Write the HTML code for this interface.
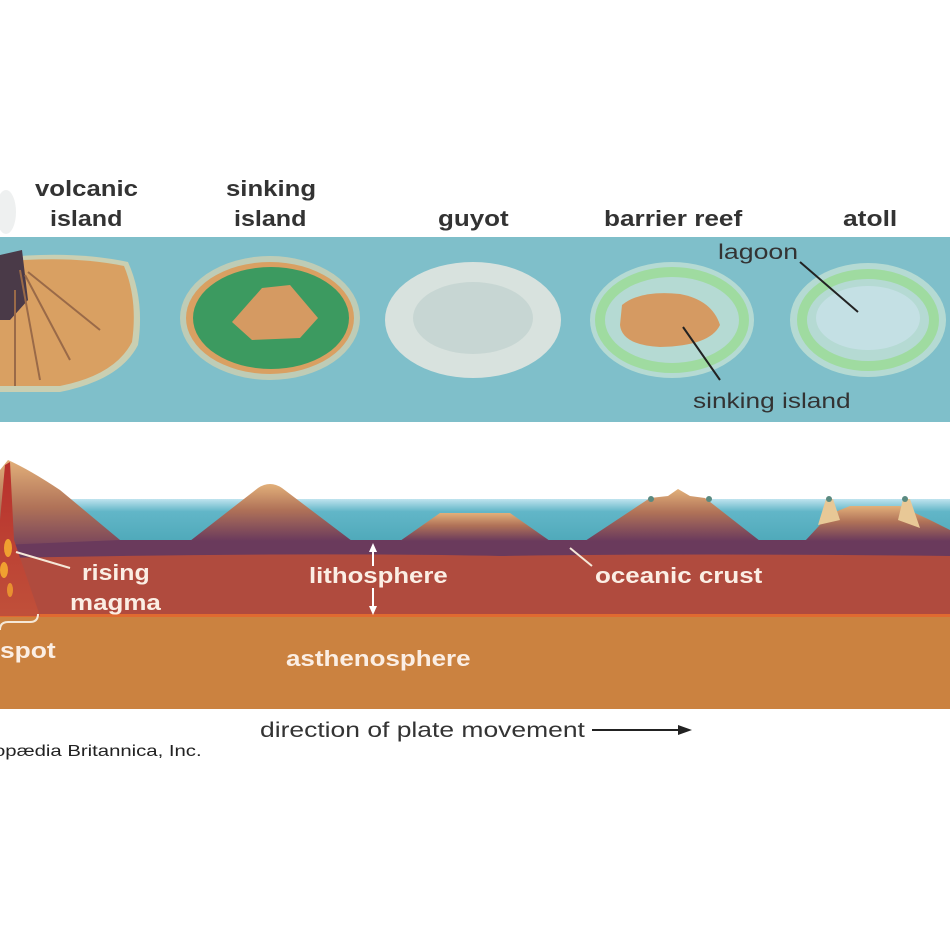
<!DOCTYPE html>
<html><head><meta charset="utf-8"><style>
html,body{margin:0;padding:0;background:#fff;width:950px;height:950px;overflow:hidden}
svg text{font-family:"Liberation Sans",Arial,sans-serif}
</style></head><body>
<svg width="950" height="950" viewBox="0 0 950 950" xmlns="http://www.w3.org/2000/svg">
<defs>
<linearGradient id="sea" x1="0" y1="0" x2="0" y2="1"><stop offset="0" stop-color="#bfe3ee"/><stop offset="0.25" stop-color="#62b6c8"/><stop offset="1" stop-color="#4aa6b6"/></linearGradient>
<linearGradient id="mt" x1="0" y1="0" x2="0" y2="1"><stop offset="0" stop-color="#e2b07a"/><stop offset="0.45" stop-color="#b07258"/><stop offset="1" stop-color="#6a3a5c"/></linearGradient>
<linearGradient id="mt2" x1="0" y1="460" x2="0" y2="555" gradientUnits="userSpaceOnUse"><stop offset="0" stop-color="#e2b07a"/><stop offset="0.5" stop-color="#b07258"/><stop offset="1" stop-color="#6a3a5c"/></linearGradient>
<linearGradient id="plume" x1="0" y1="0" x2="0" y2="1"><stop offset="0" stop-color="#b8302c"/><stop offset="1" stop-color="#c0503a"/></linearGradient>
</defs>

<!-- top labels -->
<g font-size="22" font-weight="bold" fill="#333">
<text transform="translate(35 196) scale(1.17 1)">volcanic</text>
<text transform="translate(50 226) scale(1.14 1)">island</text>
<text transform="translate(226 196) scale(1.17 1)">sinking</text>
<text transform="translate(234 226) scale(1.14 1)">island</text>
<text transform="translate(438 226) scale(1.18 1)">guyot</text>
<text transform="translate(604 226) scale(1.19 1)">barrier reef</text>
<text transform="translate(843 226) scale(1.2 1)">atoll</text>
</g>

<!-- top panel -->
<rect x="0" y="237" width="950" height="185" fill="#7fbfca"/>

<!-- volcanic island -->
<ellipse cx="6" cy="212" rx="10" ry="22" fill="#eef0f0"/>
<path d="M0 258 Q70 250 128 262 Q145 300 138 345 Q120 380 60 392 L0 392 Z" fill="#e8d6a8" opacity="0.7"/>
<path d="M0 262 Q70 255 124 266 Q138 300 132 342 Q115 375 60 386 L0 386 Z" fill="#d9a062"/>
<path d="M0 255 L22 250 L28 300 L10 320 L0 320 Z" fill="#4a3a48"/>
<path d="M20 270 L40 380 M25 275 L70 360 M28 272 L100 330 M15 290 L15 386" stroke="#9a6a48" stroke-width="2" fill="none"/>

<!-- sinking island -->
<ellipse cx="270" cy="318" rx="90" ry="62" fill="#e8d6a8" opacity="0.6"/>
<ellipse cx="270" cy="318" rx="84" ry="56" fill="#d9a062"/>
<ellipse cx="271" cy="318" rx="78" ry="51" fill="#3c9a60"/>
<path d="M232 322 L262 288 L290 285 L318 318 L300 338 L252 340 Z" fill="#d59a62"/>

<!-- guyot -->
<ellipse cx="473" cy="320" rx="88" ry="58" fill="#d8e2de"/>
<ellipse cx="473" cy="318" rx="60" ry="36" fill="#bccfcc" opacity="0.6"/>

<!-- barrier reef -->
<ellipse cx="672" cy="320" rx="82" ry="58" fill="#d8ecd8" opacity="0.6"/>
<ellipse cx="672" cy="320" rx="72" ry="48" fill="none" stroke="#9fdba0" stroke-width="10"/>
<path d="M622 305 Q640 290 680 294 Q712 300 720 325 Q710 346 660 347 Q622 345 620 325 Z" fill="#d59a62"/>

<!-- atoll -->
<ellipse cx="868" cy="320" rx="78" ry="57" fill="#d8ecd8" opacity="0.6"/>
<ellipse cx="868" cy="320" rx="66" ry="46" fill="none" stroke="#9fdba0" stroke-width="10"/>
<ellipse cx="868" cy="318" rx="52" ry="32" fill="#c4e0e4"/>

<g font-size="21" fill="#333">
<text transform="translate(718 259) scale(1.27 1)">lagoon</text>
<text transform="translate(693 408) scale(1.25 1)">sinking island</text>
</g>
<path d="M800 262 L858 312 M683 327 L720 380" stroke="#222" stroke-width="2"/>

<!-- cross section -->
<rect x="0" y="499" width="950" height="50" fill="url(#sea)"/>
<rect x="0" y="616" width="950" height="93" fill="#cb8240"/>
<rect x="0" y="554" width="950" height="62" fill="#b04b3e"/>
<rect x="0" y="614" width="950" height="3" fill="#e06a30"/>
<path d="M0 540 L950 540 L950 556 Q700 553 500 556 Q300 552 0 558 Z" fill="#6a3a5c"/>

<!-- mountains -->
<path d="M0 470 L8 460 Q30 470 60 490 L120 540 L0 545 Z" fill="url(#mt2)"/>
<path d="M190 541 L258 488 Q270 480 282 488 L352 541 Z" fill="url(#mt)"/>
<path d="M400 541 L440 513 L510 513 L550 541 Z" fill="url(#mt)"/>
<path d="M585 541 L650 498 L668 496 L678 489 L690 496 L705 498 L760 541 Z" fill="url(#mt)"/>
<path d="M805 541 L830 514 L850 506 L900 506 L930 520 L950 530 L950 541 Z" fill="url(#mt)"/>
<path d="M818 525 L826 499 L833 499 L840 520 Z M898 520 L903 499 L910 499 L920 528 Z" fill="#e8c896"/>
<circle cx="651" cy="499" r="3" fill="#5a8a80"/><circle cx="709" cy="499" r="3" fill="#5a8a80"/>
<circle cx="829" cy="499" r="3" fill="#5a8a80"/><circle cx="905" cy="499" r="3" fill="#5a8a80"/>

<!-- plume -->
<path d="M5 465 L10 462 L14 540 L40 616 L0 616 L0 520 Z" fill="url(#plume)"/>
<ellipse cx="8" cy="548" rx="4" ry="9" fill="#f0a030"/>
<ellipse cx="4" cy="570" rx="4" ry="8" fill="#f0a030"/>
<ellipse cx="10" cy="590" rx="3" ry="7" fill="#e89030"/>
<path d="M16 552 L70 568" stroke="#f5e8d8" stroke-width="2"/>
<path d="M0 630 Q0 622 8 622 L30 622 Q38 622 38 614" stroke="#f5e8d8" stroke-width="2" fill="none"/>

<g font-size="22" font-weight="bold" fill="#fbeee4">
<text transform="translate(82 580) scale(1.13 1)">rising</text>
<text transform="translate(70 610) scale(1.18 1)">magma</text>
<text transform="translate(0 658) scale(1.2 1)">spot</text>
<text transform="translate(309 583) scale(1.17 1)">lithosphere</text>
<text transform="translate(286 666) scale(1.18 1)">asthenosphere</text>
<text transform="translate(595 583) scale(1.18 1)">oceanic crust</text>
</g>
<path d="M373 546 L373 566 M373 588 L373 612" stroke="#fff" stroke-width="2"/>
<path d="M369 552 L373 543 L377 552 Z M369 606 L373 615 L377 606 Z" fill="#fff"/>
<path d="M570 548 L592 566" stroke="#f5e8d8" stroke-width="2"/>

<!-- bottom text -->
<text transform="translate(260 737) scale(1.26 1)" font-size="21" fill="#333">direction of plate movement</text>
<path d="M592 730 L680 730" stroke="#222" stroke-width="2"/>
<path d="M678 725 L692 730 L678 735 Z" fill="#222"/>
<text transform="translate(-6 756) scale(1.27 1)" font-size="16" fill="#222" font-family="Liberation Mono">opædia Britannica, Inc.</text>
</svg>
</body></html>
